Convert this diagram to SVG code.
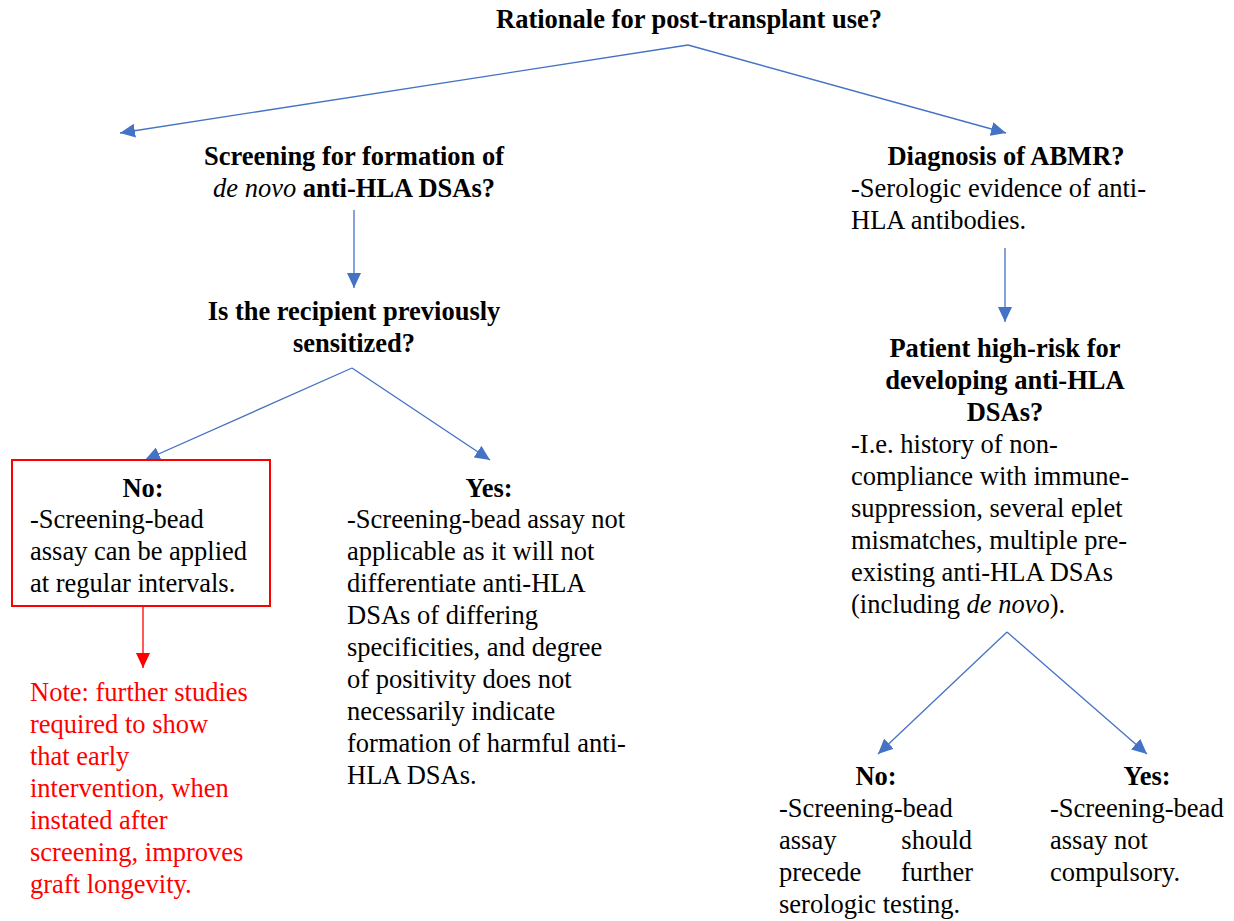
<svg xmlns="http://www.w3.org/2000/svg" width="1234" height="921" viewBox="0 0 1234 921">
<style>
text{font-family:"Liberation Serif","Times New Roman",serif;font-size:26.5px;fill:#000}
.b{font-weight:bold}
.c{text-anchor:middle}
.e{text-anchor:end}
.i{font-style:italic;font-weight:normal}
.red{fill:#ff0000}
.conn{stroke:#4472c4;stroke-width:1.3;fill:none}
.rconn{stroke:#ff0000;stroke-width:1.3;fill:none}
</style>
<defs>
<marker id="ab" markerUnits="userSpaceOnUse" markerWidth="16" markerHeight="14" refX="15" refY="7" orient="auto">
<path d="M0,0 L15,7 L0,14 Z" fill="#4472c4"/>
</marker>
<marker id="ar" markerUnits="userSpaceOnUse" markerWidth="16" markerHeight="14" refX="15" refY="7" orient="auto">
<path d="M0,0 L15,7 L0,14 Z" fill="#ff0000"/>
</marker>
</defs>
<rect width="1234" height="921" fill="#fff"/>
<g id="connectors">
<line class="conn" x1="688" y1="45" x2="120" y2="133" marker-end="url(#ab)"/>
<line class="conn" x1="688" y1="45" x2="1006" y2="133" marker-end="url(#ab)"/>
<line class="conn" x1="354" y1="210" x2="354" y2="288" marker-end="url(#ab)"/>
<line class="conn" x1="352" y1="368" x2="145" y2="460" marker-end="url(#ab)"/>
<line class="conn" x1="352" y1="368" x2="490" y2="460" marker-end="url(#ab)"/>
<line class="conn" x1="1005" y1="248" x2="1005" y2="322" marker-end="url(#ab)"/>
<line class="conn" x1="1007" y1="632" x2="878" y2="754" marker-end="url(#ab)"/>
<line class="conn" x1="1007" y1="632" x2="1147" y2="754" marker-end="url(#ab)"/>
<line class="rconn" x1="143" y1="606" x2="143" y2="668" marker-end="url(#ar)"/>
</g>
<g id="title">
<text class="b c" x="689" y="28">Rationale for post-transplant use?</text>
</g>
<g id="screening">
<text class="b c" x="354" y="165">Screening for formation of</text>
<text class="b c" x="354" y="197"><tspan class="i">de novo</tspan> anti-HLA DSAs?</text>
</g>
<g id="sensitized">
<text class="b c" x="354" y="320">Is the recipient previously</text>
<text class="b c" x="354" y="352">sensitized?</text>
</g>
<g id="no-left">
<rect x="12" y="460" width="258" height="146" fill="none" stroke="#ff0000" stroke-width="2"/>
<text class="b c" x="143" y="497">No:</text>
<text x="30" y="528">-Screening-bead</text>
<text x="30" y="560">assay can be applied</text>
<text x="30" y="592">at regular intervals.</text>
</g>
<g id="note">
<text class="red" x="30" y="701">Note: further studies</text>
<text class="red" x="30" y="733">required to show</text>
<text class="red" x="30" y="765">that early</text>
<text class="red" x="30" y="797">intervention, when</text>
<text class="red" x="30" y="829">instated after</text>
<text class="red" x="30" y="861">screening, improves</text>
<text class="red" x="30" y="893">graft longevity.</text>
</g>
<g id="yes-left">
<text class="b c" x="489" y="497">Yes:</text>
<text x="347" y="528">-Screening-bead assay not</text>
<text x="347" y="560">applicable as it will not</text>
<text x="347" y="592">differentiate anti-HLA</text>
<text x="347" y="624">DSAs of differing</text>
<text x="347" y="656">specificities, and degree</text>
<text x="347" y="688">of positivity does not</text>
<text x="347" y="720">necessarily indicate</text>
<text x="347" y="752">formation of harmful anti-</text>
<text x="347" y="784">HLA DSAs.</text>
</g>
<g id="diagnosis">
<text class="b c" x="1006" y="165">Diagnosis of ABMR?</text>
<text x="851" y="197">-Serologic evidence of anti-</text>
<text x="851" y="229">HLA antibodies.</text>
</g>
<g id="high-risk">
<text class="b c" x="1005" y="357">Patient high-risk for</text>
<text class="b c" x="1005" y="389">developing anti-HLA</text>
<text class="b c" x="1005" y="421">DSAs?</text>
<text x="851" y="453">-I.e. history of non-</text>
<text x="851" y="485">compliance with immune-</text>
<text x="851" y="517">suppression, several eplet</text>
<text x="851" y="549">mismatches, multiple pre-</text>
<text x="851" y="581">existing anti-HLA DSAs</text>
<text x="851" y="613">(including <tspan class="i">de novo</tspan>).</text>
</g>
<g id="no-right">
<text class="b c" x="876" y="785">No:</text>
<text x="779" y="817">-Screening-bead</text>
<text x="779" y="849">assay</text>
<text class="e" x="972" y="849">should</text>
<text x="779" y="881">precede</text>
<text class="e" x="973" y="881">further</text>
<text x="779" y="913">serologic testing.</text>
</g>
<g id="yes-right">
<text class="b c" x="1147" y="785">Yes:</text>
<text x="1050" y="817">-Screening-bead</text>
<text x="1050" y="849">assay not</text>
<text x="1050" y="881">compulsory.</text>
</g>
</svg>
